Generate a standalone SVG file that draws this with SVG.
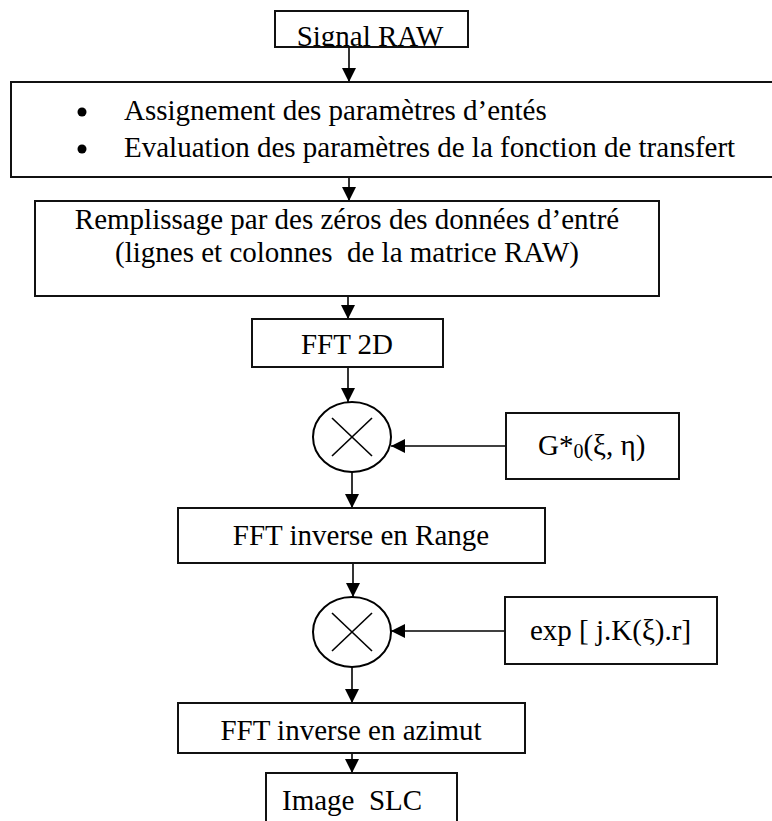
<svg xmlns="http://www.w3.org/2000/svg" width="772" height="821" viewBox="0 0 772 821">
  <defs>
    <marker id="arrow" viewBox="0 0 14 14" refX="14" refY="7" markerWidth="14" markerHeight="14" markerUnits="userSpaceOnUse" orient="auto">
      <path d="M0,0 L14,7 L0,14 Z" fill="#000"/>
    </marker>
    <clipPath id="clip-signal">
      <rect x="275" y="11" width="193" height="36"/>
    </clipPath>
  </defs>
  <style>
    .box { fill: #fff; stroke: #111; stroke-width: 2; }
    .op { fill: #fff; stroke: #000; stroke-width: 2; }
    .cross { stroke: #000; stroke-width: 1.6; }
    .lbl { font-family: "Liberation Serif", "Times New Roman", serif; font-size: 29px; fill: #000; }
    .mid { text-anchor: middle; }
    .wire { fill: none; stroke: #000; stroke-width: 1.6; marker-end: url(#arrow); }
  </style>
  <rect width="772" height="821" fill="#fff"/>

  <!-- connectors -->
  <g id="connectors">
    <line class="wire" x1="349" y1="47" x2="349" y2="82"/>
    <line class="wire" x1="349" y1="177" x2="349" y2="201"/>
    <line class="wire" x1="348" y1="296" x2="348" y2="319"/>
    <line class="wire" x1="348" y1="367" x2="348" y2="402"/>
    <line class="wire" x1="506" y1="446" x2="391" y2="446"/>
    <line class="wire" x1="352" y1="472" x2="352" y2="508"/>
    <line class="wire" x1="353" y1="563" x2="353" y2="597"/>
    <line class="wire" x1="505" y1="631" x2="391" y2="631"/>
    <line class="wire" x1="352" y1="667" x2="352" y2="703"/>
    <line class="wire" x1="352" y1="753" x2="352" y2="773"/>
  </g>

  <g id="signal-raw">
    <rect class="box" x="275" y="11" width="193" height="36"/>
    <text class="lbl mid" x="370" y="46" clip-path="url(#clip-signal)">Signal RAW</text>
  </g>

  <g id="header-params">
    <rect class="box" x="11" y="82" width="775" height="95"/>
    <circle cx="82" cy="112" r="4.5" fill="#000"/>
    <circle cx="82" cy="149" r="4.5" fill="#000"/>
    <text class="lbl" x="124" y="120">Assignement des paramètres d’entés</text>
    <text class="lbl" x="124" y="157">Evaluation des paramètres de la fonction de transfert</text>
  </g>

  <g id="zero-padding">
    <rect class="box" x="35" y="201" width="624" height="95"/>
    <text class="lbl mid" x="347" y="229">Remplissage par des zéros des données d’entré</text>
    <text class="lbl mid" x="347" y="262" style="white-space:pre">(lignes et colonnes  de la matrice RAW)</text>
  </g>

  <g id="fft-2d">
    <rect class="box" x="252" y="319" width="191" height="48"/>
    <text class="lbl mid" x="347" y="354">FFT 2D</text>
  </g>

  <g id="mult-1">
    <ellipse class="op" cx="352" cy="437" rx="39" ry="35"/>
    <line class="cross" x1="332" y1="418" x2="372" y2="456"/>
    <line class="cross" x1="372" y1="418" x2="332" y2="456"/>
  </g>

  <g id="transfer-g">
    <rect class="box" x="506" y="413" width="173" height="66"/>
    <text class="lbl" x="538" y="455">G*<tspan font-size="20" dy="3">0</tspan><tspan dy="-3">(ξ, η)</tspan></text>
  </g>

  <g id="ifft-range">
    <rect class="box" x="178" y="508" width="367" height="55"/>
    <text class="lbl mid" x="361" y="545">FFT inverse en Range</text>
  </g>

  <g id="mult-2">
    <ellipse class="op" cx="352" cy="632" rx="39" ry="35"/>
    <line class="cross" x1="332" y1="613" x2="372" y2="651"/>
    <line class="cross" x1="372" y1="613" x2="332" y2="651"/>
  </g>

  <g id="phase-exp">
    <rect class="box" x="505" y="597" width="212" height="67"/>
    <text class="lbl" x="530" y="640">exp [ j.K(ξ).r]</text>
  </g>

  <g id="ifft-azimuth">
    <rect class="box" x="178" y="703" width="347" height="50"/>
    <text class="lbl mid" x="351" y="740">FFT inverse en azimut</text>
  </g>

  <g id="image-slc">
    <rect class="box" x="266" y="773" width="191" height="60"/>
    <text class="lbl" x="282" y="810" style="white-space:pre">Image  SLC</text>
  </g>
</svg>
